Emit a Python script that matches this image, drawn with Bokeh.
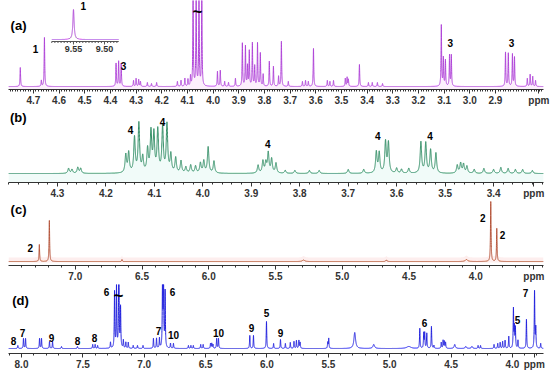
import numpy as np
from bokeh.plotting import figure
from bokeh.models import Range1d, FixedTicker
from bokeh.layouts import column
from bokeh.embed import file_html
from bokeh.resources import INLINE
from bokeh.core.properties import value

FONT = "Liberation Sans"

# ---------------- panel (a) ----------------
a_ppm = [4.751, 4.669, 4.657, 4.378, 4.368, 4.358, 4.310, 4.300, 4.290, 4.283,
         4.256, 4.240, 4.220, 4.139, 4.125, 4.110, 4.098, 4.088, 4.078, 4.066,
         4.055, 4.044, 3.983, 3.972, 3.955, 3.940, 3.913, 3.886, 3.874, 3.866,
         3.859, 3.847, 3.838, 3.827, 3.816, 3.805, 3.781, 3.765, 3.745, 3.734,
         3.707, 3.652, 3.640, 3.629, 3.609, 3.555, 3.545, 3.531, 3.485, 3.478,
         3.473, 3.430, 3.395, 3.380, 3.360, 3.340, 3.111, 3.103, 3.095, 3.079,
         3.072, 2.861, 2.850, 2.834, 2.826, 2.776, 2.765, 2.755, 2.744]
a_int = [19, 6, 49, 23, 25, 23, 6, 8, 7, 5,
         4, 3, 4, 5, 6, 8, 7, 10, 90, 90,
         90, 90, 15, 16, 5, 4, 8, 43, 40, 20,
         35, 43, 20, 43, 33, 12, 25, 20, 10, 45,
         5, 5, 6, 5, 38, 6, 5, 6, 8, 9,
         7, 22, 4, 4, 4, 3, 61, 28, 26, 31,
         31, 34, 33, 32, 29, 8, 12, 10, 6]
a_inset_ppm = [9.550]
a_inset_int = [30]
a_ticks = [4.7, 4.6, 4.5, 4.4, 4.3, 4.2, 4.1, 4.0, 3.9, 3.8, 3.7, 3.6, 3.5, 3.4, 3.3, 3.2, 3.1, 3.0, 2.9]
a_tick_labels = ["4.7", "4.6", "4.5", "4.4", "4.3", "4.2", "4.1", "4.0", "3.9", "3.8",
                 "3.7", "3.6", "3.5", "3.4", "3.3", "3.2", "3.1", "3.0", "2.9"]
a_inset_ticks = [9.55, 9.50]
a_inset_tick_labels = ["9.55", "9.50"]
a_notes = ["(a)", "1", "3", "3", "3"]

# ---------------- panel (b) ----------------
b_ppm = [4.277, 4.270, 4.258, 4.252, 4.159, 4.153, 4.141, 4.132, 4.124, 4.114,
         4.107, 4.101, 4.093, 4.083, 4.074, 4.066, 4.056, 4.045, 4.035, 4.025,
         4.015, 4.005, 3.998, 3.989, 3.977, 3.886, 3.876, 3.870, 3.865, 3.858,
         3.849, 3.830, 3.810, 3.780, 3.760, 3.700, 3.668, 3.642, 3.636, 3.623,
         3.617, 3.600, 3.590, 3.575, 3.550, 3.540, 3.530, 3.519, 3.475, 3.468,
         3.462, 3.455, 3.440, 3.420, 3.400, 3.385, 3.370, 3.355, 3.340, 3.320]
b_int = [5, 4, 6, 5, 18, 20, 35, 49, 15, 23,
         40, 38, 42, 45, 48, 18, 15, 12, 6, 8,
         7, 10, 12, 26, 12, 8, 12, 10, 20, 14,
         10, 3, 3, 3, 3, 4, 4, 21, 20, 31,
         30, 5, 4, 5, 31, 30, 23, 20, 8, 10,
         9, 7, 4, 5, 4, 6, 5, 4, 4, 3]
b_ticks = [4.3, 4.2, 4.1, 4.0, 3.9, 3.8, 3.7, 3.6, 3.5, 3.4]
b_tick_labels = ["4.3", "4.2", "4.1", "4.0", "3.9", "3.8", "3.7", "3.6", "3.5", "3.4"]
b_notes = ["(b)", "4", "4", "4", "4", "4"]

# ---------------- panel (c) ----------------
c_ppm = [7.269, 7.194, 6.650, 3.888, 3.843]
c_int = [17, 41, 2, 61, 33]
c_broad_ppm = [5.290, 4.670, 4.070]
c_broad_int = [1.5, 1.5, 2.0]
c_broad_w = [0.010, 0.005, 0.010]
c_ticks = [7.0, 6.5, 6.0, 5.5, 5.0, 4.5, 4.0]
c_tick_labels = ["7.0", "6.5", "6.0", "5.5", "5.0", "4.5", "4.0"]
c_notes = ["(c)", "2", "2", "2"]

# ---------------- panel (d) ----------------
d_ppm = [8.030, 7.984, 7.967, 7.853, 7.837, 7.772, 7.747, 7.674, 7.544, 7.420,
         7.400, 7.380, 7.275, 7.242, 7.226, 7.207, 7.193, 7.170, 7.150, 7.130,
         7.090, 7.055, 7.010, 6.925, 6.900, 6.876, 6.851, 6.843, 6.830, 6.786,
         6.762, 6.640, 6.620, 6.600, 6.540, 6.520, 6.460, 6.450, 6.440, 6.410,
         6.395, 6.140, 6.110, 6.004, 5.946, 5.890, 5.850, 5.810, 5.780, 5.760,
         5.740, 5.730, 5.505, 5.497, 4.755, 4.723, 4.715, 4.698, 4.660, 4.640,
         4.580, 4.565, 4.555, 4.545, 4.280, 4.260, 4.150, 4.120, 4.100, 4.080,
         4.060, 4.030, 3.992, 3.984, 3.976, 3.955, 3.886, 3.820, 3.810, 3.770]
d_int = [3, 10, 10, 10, 10, 7, 7, 2, 2, 4,
         4, 3, 6, 56, 61, 100, 40, 8, 6, 6,
         3, 3, 3, 10, 10, 10, 69, 66, 56, 5,
         5, 3, 3, 3, 4, 4, 5, 5, 4, 10,
         10, 13, 13, 27, 5, 9, 5, 6, 7, 8,
         8, 6, 6, 10, 20, 15, 15, 15, 22, 3,
         6, 8, 7, 6, 3, 3, 4, 5, 6, 7,
         8, 12, 39, 20, 20, 8, 29, 57, 20, 5]
d_broad_ppm = [5.285, 5.130, 4.845, 4.470, 4.380, 4.330]
d_broad_int = [16, 4, 2, 4, 2, 2]
d_broad_w = [0.008, 0.008, 0.020, 0.006, 0.006, 0.006]
d_ticks = [8.0, 7.5, 7.0, 6.5, 6.0, 5.5, 5.0, 4.5, 4.0]
d_tick_labels = ["8.0", "7.5", "7.0", "6.5", "6.0", "5.5", "5.0", "4.5", "4.0"]
d_notes = ["(d)", "6", "6", "8", "7", "9", "8", "8", "7", "10", "10", "9", "5", "9", "6", "5", "7"]


def lorentz_sum(x, ppm, inten, width):
    ppm = np.asarray(ppm, float)[:, None]
    inten = np.asarray(inten, float)[:, None]
    w = np.asarray(width, float)
    w = w[:, None] if w.ndim else w
    return (inten * w ** 2 / ((x[None, :] - ppm) ** 2 + w ** 2)).sum(axis=0)


def grid(xr, centers):
    lo, hi = min(xr), max(xr)
    x = np.linspace(lo, hi, 14000)
    extra = [c for c in centers if lo <= c <= hi]
    return np.unique(np.concatenate([x, extra]))


def make_panel(height, xr, yr, ticks, labels, minor, ppm_pos):
    p = figure(width=550, height=height, x_range=Range1d(*xr), y_range=Range1d(*yr),
               output_backend="svg", toolbar_location=None, y_axis_location=None,
               min_border_left=8, min_border_right=7, min_border_top=0, min_border_bottom=0)
    p.grid.visible = False
    p.outline_line_color = None
    ax = p.xaxis[0]
    ax.ticker = FixedTicker(ticks=list(ticks) + [ppm_pos], minor_ticks=list(minor))
    ov = {t: l for t, l in zip(ticks, labels)}
    ov[ppm_pos] = "ppm"
    ax.major_label_overrides = ov
    ax.axis_line_color = "#333333"
    ax.major_tick_line_color = "#333333"
    ax.minor_tick_line_color = "#333333"
    ax.major_tick_in = 0
    ax.major_tick_out = 4
    ax.minor_tick_in = 0
    ax.minor_tick_out = 2
    ax.major_label_text_font = FONT
    ax.major_label_text_font_style = "bold"
    ax.major_label_text_font_size = "10px"
    ax.major_label_text_color = "#333333"
    ax.major_label_standoff = 1
    return p


def add_notes(p, texts, xs, ys, size_first="13px"):
    p.text(x=xs[:1], y=ys[:1], text=texts[:1], text_font=value(FONT), text_font_style="bold",
           text_font_size=size_first, text_align="center", text_baseline="middle", text_color="black")
    p.text(x=xs[1:], y=ys[1:], text=texts[1:], text_font=value(FONT), text_font_style="bold",
           text_font_size="10px", text_align="center", text_baseline="middle", text_color="black")


# ---- (a)
xa = (4.797, 2.713)
ya = (-3, 86)
pa = make_panel(108, xa, ya, a_ticks, a_tick_labels, np.arange(2.72, 4.80, 0.01), 2.731)
gx = grid(xa, a_ppm)
gy = lorentz_sum(gx, a_ppm, a_int, 0.0013)
pa.varea(x=gx, y1=ya[0], y2=gy, fill_color="#e070e0", fill_alpha=0.10)
pa.line(gx, gy, line_color="#b046d8", line_width=1)
# inset
pa.extra_x_ranges = {"ins": Range1d(9.6548, 8.792)}
pa.extra_y_ranges = {"insy": Range1d(-50, 39)}
ix = np.linspace(9.477, 9.585, 3000)
iy = lorentz_sum(ix, a_inset_ppm, a_inset_int, 0.0012)
pa.line(ix, iy, x_range_name="ins", y_range_name="insy", line_color="#b046d8", line_width=1)
pa.line([9.585, 9.477], [-2, -2], x_range_name="ins", y_range_name="insy", line_color="#555555", line_width=1)
mt = np.arange(9.48, 9.586, 0.005)
pa.segment(x0=mt, y0=-2, x1=mt, y1=-3.5, x_range_name="ins", y_range_name="insy", line_color="#555555")
pa.segment(x0=a_inset_ticks, y0=-2, x1=a_inset_ticks, y1=-5, x_range_name="ins", y_range_name="insy", line_color="#555555")
pa.text(x=a_inset_ticks, y=[-9, -9], text=a_inset_tick_labels, x_range_name="ins", y_range_name="insy",
        text_font=value(FONT), text_font_style="bold", text_font_size="9px", text_align="center",
        text_baseline="middle", text_color="#333333")
pa.text(x=[9.534], y=[34], text=["1"], x_range_name="ins", y_range_name="insy",
        text_font=value(FONT), text_font_style="bold", text_font_size="10px", text_align="center",
        text_baseline="middle", text_color="black")
add_notes(pa, a_notes, [4.758, 4.692, 4.349, 3.076, 2.838], [61, 38, 21, 44, 44])
pa.text(x=[4.061], y=[75], text=["~"], text_font=value(FONT), text_font_style="bold",
        text_font_size="17px", text_align="center", text_baseline="middle", text_color="black")

# ---- (b)
xb = (4.401, 3.297)
yb = (-9, 65)
pb = make_panel(93, xb, yb, b_ticks, b_tick_labels, np.arange(3.30, 4.40, 0.02), 3.317)
gx = grid(xb, b_ppm)
gy = lorentz_sum(gx, b_ppm, b_int, 0.0018)
pb.varea(x=gx, y1=yb[0], y2=gy, fill_color="#50d0b0", fill_alpha=0.08)
pb.line(gx, gy, line_color="#2e8b62", line_width=1)
add_notes(pb, b_notes, [4.381, 4.149, 4.083, 3.866, 3.639, 3.531], [56, 44, 52, 30, 38, 38])

# ---- (c)
xc = (7.5, 3.493)
yc = (-4, 60)
pc = make_panel(83, xc, yc, c_ticks, c_tick_labels, np.arange(3.5, 7.51, 0.1), 3.565)
gx = grid(xc, c_ppm)
gy = lorentz_sum(gx, c_ppm, c_int, 0.0025) + lorentz_sum(gx, c_broad_ppm, c_broad_int, c_broad_w)
pc.varea(x=gx, y1=-1, y2=gy + 4, fill_color="#f09090", fill_alpha=0.15)
pc.line(gx, gy, line_color="#b5563c", line_width=1)
add_notes(pc, c_notes, [7.425, 7.336, 3.948, 3.799], [52, 14, 44, 27])

# ---- (d)
xd = (8.106, 3.747)
yd = (-5, 64)
pd = make_panel(88, xd, yd, d_ticks, d_tick_labels, np.arange(3.8, 8.11, 0.1), 3.822)
gx = grid(xd, d_ppm)
gy = lorentz_sum(gx, d_ppm, d_int, 0.0025) + lorentz_sum(gx, d_broad_ppm, d_broad_int, d_broad_w)
pd.line(gx, gy, line_color="#2323dd", line_width=1)
add_notes(pd, d_notes,
          [8.008, 7.308, 6.770, 8.065, 7.992, 7.756, 7.544, 7.405, 6.884, 6.762, 6.395, 6.126, 6.004, 5.890, 4.717, 3.959, 3.894],
          [48, 57, 57, 8, 16, 11, 8, 11, 18, 14, 16, 21, 36, 16, 26, 29, 56])
pd.text(x=[7.21], y=[53], text=["~"], text_font=value(FONT), text_font_style="bold",
        text_font_size="17px", text_align="center", text_baseline="middle", text_color="black")

layout = column(pa, pb, pc, pd, spacing=0)
open("out.html", "w").write(file_html(layout, INLINE))
